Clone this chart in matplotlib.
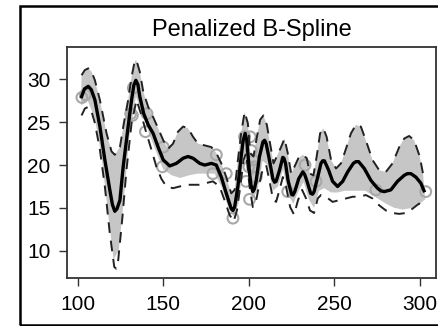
import matplotlib
matplotlib.use("Agg")
import matplotlib.pyplot as plt
import matplotlib.patches as patches
import numpy as np

plt.rcParams['font.family'] = ['Liberation Sans', 'DejaVu Sans']

# fitted penalized spline
fit_x = [102.3, 104.0, 106.2, 108.0, 110.1, 113.0, 115.9, 118.8, 120.3, 121.7, 123.0, 124.7,
         126.6, 129.5, 131.5, 132.8, 134.0, 135.2, 136.3, 138.6, 141.2, 144.1, 147.0, 150.0,
         153.8, 157.7, 161.6, 164.5, 167.4, 171.3, 174.2, 178.1, 181.0, 183.9, 186.8, 189.7,
         190.7, 191.7, 193.6, 195.5, 196.6, 197.8, 198.8, 200.4, 201.3, 202.3, 203.2, 204.3,
         206.2, 208.2, 209.2, 210.1, 212.0, 214.0, 215.0, 215.9, 217.9, 219.8, 220.5, 221.4,
         222.9, 224.9, 225.8, 226.8, 229.1, 231.5, 232.6, 233.8, 236.1, 237.2, 238.1, 240.2,
         242.1, 243.1, 244.1, 246.6, 248.9, 251.8, 254.8, 257.7, 261.0, 262.5, 264.1, 267.4,
         271.3, 275.1, 277.0, 279.0, 282.9, 286.8, 290.7, 292.6, 294.6, 297.5, 300.4, 302.3]
fit_y = [28.0, 28.9, 29.2, 28.8, 27.6, 24.5, 20.6, 17.1, 15.4, 14.6, 14.9, 15.9,
         19.8, 24.5, 27.6, 29.3, 29.9, 29.4, 28.0, 26.0, 24.7, 23.7, 22.1, 20.6,
         19.9, 20.2, 20.8, 21.0, 20.8, 20.2, 20.0, 20.2, 20.0, 18.6, 16.7, 14.9,
         14.7, 15.1, 17.5, 21.0, 22.8, 23.7, 22.9, 19.0, 17.6, 16.9, 17.2, 18.2,
         21.0, 22.7, 22.9, 22.5, 20.6, 18.4, 18.0, 18.1, 19.4, 20.9, 20.8, 20.2,
         18.2, 16.6, 16.5, 16.9, 18.4, 19.2, 18.9, 18.2, 16.7, 16.6, 16.9, 18.6,
         20.2, 20.5, 20.5, 19.4, 18.1, 17.5, 18.1, 19.2, 20.2, 20.4, 20.4, 19.6,
         18.2, 17.3, 17.0, 16.9, 17.1, 18.1, 18.8, 19.0, 19.0, 18.6, 17.9, 17.0]

# upper dashed band
up_x = [102.3, 104.2, 106.2, 108.2, 110.1, 113.0, 116.9, 119.8, 121.7, 124.7, 127.0, 129.5,
        131.5, 133.0, 134.0, 135.0, 136.3, 138.3, 141.2, 144.1, 147.0, 150.0, 152.8, 155.7,
        158.6, 161.6, 164.5, 167.4, 170.3, 174.2, 178.1, 181.0, 183.9, 186.8, 189.7, 191.7,
        193.6, 195.5, 197.5, 199.4, 200.8, 202.7, 204.7, 206.6, 208.5, 210.5, 212.4, 214.4,
        216.3, 218.8, 220.8, 222.7, 224.7, 226.6, 228.9, 231.5, 233.8, 235.7, 237.7, 239.6,
        241.6, 243.5, 245.4, 248.0, 250.9, 253.8, 256.7, 259.6, 262.5, 265.4, 268.3, 272.2,
        276.1, 280.0, 283.9, 287.8, 290.7, 293.6, 296.5, 299.8, 301.7]
up_y = [30.5, 31.1, 31.3, 30.9, 29.9, 27.6, 23.7, 21.6, 21.2, 22.1, 24.9, 27.6,
        30.3, 31.8, 32.3, 31.8, 30.9, 28.6, 26.8, 25.6, 24.3, 22.9, 21.9, 22.5,
        23.9, 24.5, 24.3, 23.3, 22.5, 22.3, 22.1, 21.4, 20.2, 18.6, 16.7, 17.1,
        20.6, 23.7, 26.2, 24.9, 21.4, 21.0, 23.3, 25.3, 25.8, 24.7, 22.5, 20.2,
        21.0, 22.1, 23.1, 21.4, 19.0, 19.8, 20.8, 21.2, 20.8, 19.0, 18.8, 21.0,
        23.7, 24.3, 23.3, 20.6, 19.6, 20.2, 21.9, 23.7, 24.7, 24.5, 22.9, 20.6,
        19.4, 19.2, 20.2, 22.1, 23.1, 23.4, 22.9, 21.0, 19.0]

# lower dashed band
lo_x = [102.3, 104.2, 106.2, 108.2, 110.1, 113.0, 115.9, 118.8, 121.4, 122.5, 123.7, 126.2,
        128.5, 131.5, 134.4, 137.3, 140.2, 143.1, 146.0, 148.9, 151.8, 155.7, 159.6, 163.5,
        167.4, 171.3, 175.1, 179.0, 182.9, 185.8, 188.7, 191.1, 193.0, 195.0, 196.9, 198.4,
        200.4, 202.3, 204.3, 206.2, 208.2, 210.1, 212.0, 214.0, 215.9, 217.9, 219.8, 221.7,
        224.1, 226.4, 228.7, 231.1, 233.4, 235.7, 238.1, 240.2, 242.1, 245.0, 248.9, 252.8,
        256.7, 260.6, 264.5, 268.3, 272.2, 276.1, 280.0, 283.9, 287.8, 291.7, 295.5, 299.4,
        301.7]
lo_y = [25.8, 26.6, 26.8, 26.2, 24.9, 21.8, 17.5, 12.0, 8.1, 7.9, 8.9, 14.0,
        19.4, 24.9, 27.6, 25.8, 23.7, 21.8, 19.8, 18.4, 17.5, 17.3, 17.5, 17.7,
        17.7, 17.7, 17.9, 18.1, 17.5, 15.9, 14.2, 13.4, 14.7, 17.5, 20.6, 21.4,
        17.5, 15.1, 15.9, 17.9, 19.6, 20.0, 18.2, 16.1, 15.7, 17.1, 18.6, 17.5,
        15.1, 14.2, 15.9, 17.1, 16.1, 14.7, 14.4, 16.1, 16.5, 16.3, 15.7, 15.9,
        16.1, 16.3, 16.3, 16.5, 16.1, 15.3, 14.7, 14.4, 14.3, 14.4, 14.9, 15.5,
        15.3]

# lower edge of the grey shaded region
shade_lo_x = [102, 106, 110, 114, 118, 121, 124, 127, 130, 134, 138, 142, 146, 150, 155, 160,
              165, 170, 175, 180, 184, 188, 191, 194, 197, 199, 202, 205, 208, 211, 214, 217,
              220, 223, 226, 229, 232, 235, 238, 241, 244, 248, 252, 256, 260, 264, 268, 272,
              276, 280, 285, 290, 295, 300, 303]
shade_lo_y = [27.0, 27.5, 25.5, 21.0, 14.0, 9.0, 10.0, 16.0, 23.0, 28.0, 26.0, 23.5, 21.5,
              19.5, 18.8, 18.5, 18.8, 19.0, 19.0, 19.0, 17.5, 15.0, 14.0, 15.5, 21.0, 20.0,
              16.0, 17.0, 20.5, 20.0, 17.0, 17.5, 19.5, 16.5, 15.5, 17.0, 18.0, 16.0, 15.0,
              17.0, 17.3, 16.8, 16.8, 17.0, 17.0, 17.0, 17.0, 16.5, 16.0, 15.5, 15.0, 14.8,
              15.0, 15.5, 16.0]

# observed data points
pts_x = [102.5, 104.5, 131.0, 132.0, 132.5, 139.6, 140.5, 149.5, 150.0, 179.0, 181.0,
         186.8, 190.7, 197.5, 198.4, 200.0, 200.4, 200.8, 201.4, 202.3, 203.3, 204.3,
         222.7, 232.8, 239.2, 274.2, 303.3]
pts_y = [27.9, 28.2, 26.0, 25.8, 29.0, 23.9, 26.0, 19.8, 22.1, 19.0, 21.2,
         19.0, 13.8, 23.3, 18.1, 19.8, 16.0, 23.3, 21.7, 20.6, 19.8, 18.6,
         16.9, 20.0, 18.1, 17.1, 16.9]

x_ticks = [100, 150, 200, 250, 300]
y_ticks = [10, 15, 20, 25, 30]

fig = plt.figure(figsize=(4.38, 3.26), dpi=100)
ax = fig.add_axes([0.153, 0.147, 0.8425, 0.709])

shade_x = np.concatenate([up_x, shade_lo_x[::-1]])
shade_y = np.concatenate([up_y, shade_lo_y[::-1]])
ax.fill(shade_x, shade_y, color='#c6c6c6', lw=0, zorder=1)

ax.scatter(pts_x, pts_y, s=60, facecolors='none', edgecolors='#a8a8a8',
           linewidths=1.5, zorder=2)

ax.plot(up_x, up_y, color='#222222', lw=1.4, ls=(0, (5.5, 4)), zorder=3)
ax.plot(lo_x, lo_y, color='#222222', lw=1.4, ls=(0, (5.5, 4)), zorder=3)
ax.plot(fit_x, fit_y, color='black', lw=2.4, zorder=4, solid_joinstyle='round')

ax.set_xlim(93.8, 309.3)
ax.set_ylim(6.8, 33.8)
ax.set_xticks(x_ticks)
ax.set_yticks(y_ticks)
ax.tick_params(direction='out', length=6, width=1, color='#333333',
               labelsize=15, pad=6)
for s in ax.spines.values():
    s.set_color('#333333')
    s.set_linewidth(1.3)

ax.text(0.5, 1.074, 'Penalized B-Spline', transform=ax.transAxes,
        ha='center', va='center', fontsize=17)

# outer frame
fig.patches.append(patches.Rectangle((20 / 438, 1.5 / 326), 1.2, 318.5 / 326,
                                     transform=fig.transFigure, fill=False,
                                     lw=1.8, edgecolor='black', clip_on=False))

fig.savefig('out.png', dpi=100)
